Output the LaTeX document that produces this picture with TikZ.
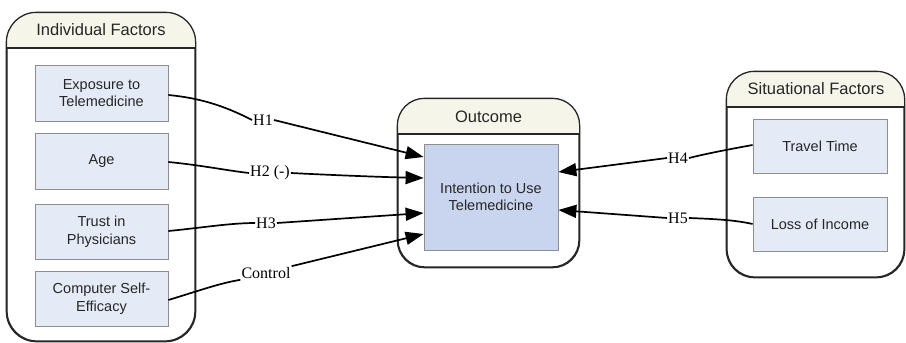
\documentclass[tikz,border=0pt]{standalone}
\usepackage{fontspec}
\setmainfont{Liberation Serif}
\newfontfamily\arialf{Liberation Sans}
\usetikzlibrary{arrows.meta,calc}
\definecolor{hdr}{HTML}{F5F5EA}
\definecolor{boxfill}{HTML}{E4EBF7}
\definecolor{boxline}{HTML}{8E8E8E}
\definecolor{intfill}{HTML}{C9D5EE}
\begin{document}
\begin{tikzpicture}[x=1pt,y=-1pt,
  container/.style={draw=black!85, line width=1.3pt, fill=white, inner sep=0pt},
  hdrtext/.style={font=\arialf\fontsize{16.5}{19}\selectfont, text=black!85},
  factor/.style={draw=boxline, fill=boxfill, line width=0.8pt, minimum width=133pt,
    minimum height=56pt, align=center, inner sep=0pt,
    font=\arialf\fontsize{14.5}{17.5}\selectfont, text=black!85},
  hlabel/.style={font=\fontsize{16}{18}\selectfont, inner sep=1pt},
  conn/.style={line width=1.7pt, black},
  arr/.style={conn, -{Triangle[length=18pt,width=13pt]}}
]
\useasboundingbox (0,0) rectangle (906,343);

% ---------- containers ----------
\node[container, rounded corners=30pt, minimum width=188pt, minimum height=328pt] (indiv) at (101,177) {};
\begin{scope}
  \clip[rounded corners=30pt] (indiv.north west) rectangle (indiv.south east);
  \fill[hdr] (indiv.north west) rectangle (indiv.east |- 0,48);
\end{scope}
\draw[line width=1.1pt, black!85] (indiv.west |- 0,48) -- (indiv.east |- 0,48);
\draw[line width=1.3pt, black!85, rounded corners=30pt] (indiv.north west) rectangle (indiv.south east);
\node[hdrtext] (indivh) at (101,30) {Individual Factors};

\node[container, rounded corners=27pt, minimum width=181pt, minimum height=168pt] (outc) at (488.5,183) {};
\begin{scope}
  \clip[rounded corners=27pt] (outc.north west) rectangle (outc.south east);
  \fill[hdr] (outc.north west) rectangle (outc.east |- 0,134);
\end{scope}
\draw[line width=1.1pt, black!85] (outc.west |- 0,134) -- (outc.east |- 0,134);
\draw[line width=1.3pt, black!85, rounded corners=27pt] (outc.north west) rectangle (outc.south east);
\node[hdrtext] (outch) at (488.5,117) {Outcome};

\node[container, rounded corners=28pt, minimum width=177pt, minimum height=205pt] (situ) at (815.5,174.5) {};
\begin{scope}
  \clip[rounded corners=28pt] (situ.north west) rectangle (situ.south east);
  \fill[hdr] (situ.north west) rectangle (situ.east |- 0,107);
\end{scope}
\draw[line width=1.1pt, black!85] (situ.west |- 0,107) -- (situ.east |- 0,107);
\draw[line width=1.3pt, black!85, rounded corners=28pt] (situ.north west) rectangle (situ.south east);
\node[hdrtext] (situh) at (816,89) {Situational Factors};

% ---------- factor boxes ----------
\node[factor] (e1) at (101.5,93) {Exposure to\\Telemedicine};
\node[factor] (e2) at (101.5,161) {Age};
\node[factor, minimum height=55pt] (e3) at (101.5,231.5) {Trust in\\Physicians};
\node[factor, minimum height=55pt] (e4) at (101.5,298.5) {Computer Self-\\Efficacy};

\node[factor, minimum width=134pt, minimum height=54pt] (tt) at (820,146) {Travel Time};
\node[factor, minimum width=134pt, minimum height=54pt] (li) at (820,224) {Loss of Income};

\node[factor, fill=intfill, minimum width=134pt, minimum height=106pt] (intent) at (491,197)
  {Intention to Use\\Telemedicine};

% ---------- target points ----------
\coordinate (t1) at (intent.west |- 0,157);
\coordinate (t2) at (intent.west |- 0,178);
\coordinate (t3) at (intent.west |- 0,213);
\coordinate (t4) at (intent.west |- 0,234);
\coordinate (t5) at (intent.east |- 0,172);
\coordinate (t6) at (intent.east |- 0,210);
\coordinate (s1) at (e1.east |- 0,95);
\coordinate (s2) at (e2.east |- 0,162);
\coordinate (s3) at (e3.east |- 0,231);
\coordinate (s4) at (e4.east |- 0,300);
\coordinate (s5) at (tt.west |- 0,145);
\coordinate (s6) at (li.west |- 0,224);

% ---------- labels ----------
\node[hlabel] (h1) at (263,120) {H1};
\node[hlabel] (h2) at (270,173) {H2 (-)};
\node[hlabel] (h3) at (266,223) {H3};
\node[hlabel] (hc) at (266,273) {Control};
\node[hlabel] (h4) at (678,158) {H4};
\node[hlabel] (h5) at (678,218) {H5};

% ---------- connectors ----------
\draw[arr] (s1) .. controls (200,98) and (225,106) .. (h1.west) (h1.east) -- (t1);
\draw[arr] (s2) .. controls (200,165) and (230,171) .. (h2.west) (h2.east) .. controls (330,175) and (380,177) .. (t2);
\draw[arr] (s3) .. controls (200,228) and (230,223) .. (h3.west) (h3.east) -- (t3);
\draw[arr] (s4) .. controls (195,292) and (220,283) .. (hc.south west) (hc.north east) -- (t4);
\draw[arr] (s5) .. controls (725,150) and (705,154) .. (h4.east) (h4.west) -- (t5);
\draw[arr] (s6) .. controls (735,220) and (715,219) .. (h5.east) (h5.west) -- (t6);
\end{tikzpicture}
\end{document}
